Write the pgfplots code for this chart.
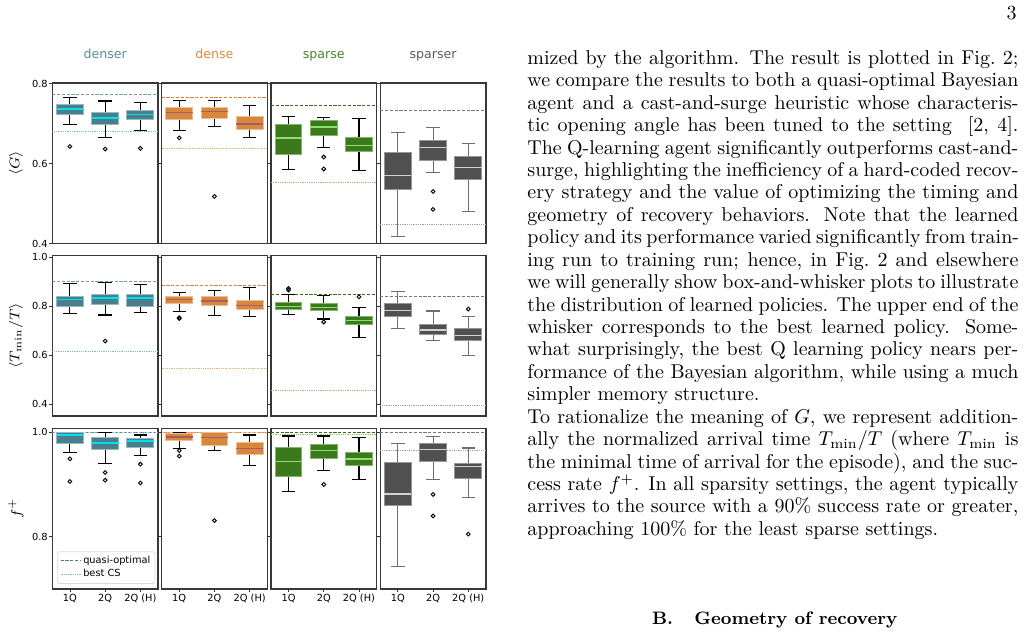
\documentclass[border=0pt]{standalone}
\usepackage{fontspec}
\usepackage{pgfplots}
\pgfplotsset{compat=1.18}
\usepgfplotslibrary{statistics}
\newfontfamily\dvs{DejaVu Sans}
\newcommand\tickfont{\dvs\fontsize{4.9}{5.6}\selectfont}
\newcommand\titlefont{\dvs\fontsize{6.3}{7}\selectfont}
\newcommand\bodyfont{\fontsize{10}{12}\selectfont}

\definecolor{cA}{RGB}{74,126,140}
\definecolor{cAe}{RGB}{150,185,195}
\definecolor{cAm}{RGB}{0,225,235}
\definecolor{cAl}{RGB}{110,155,170}
\definecolor{cAd}{RGB}{130,185,200}
\definecolor{cAt}{RGB}{85,140,155}
\definecolor{cB}{RGB}{218,135,62}
\definecolor{cBe}{RGB}{240,190,145}
\definecolor{cBm}{RGB}{165,95,100}
\definecolor{cBl}{RGB}{225,125,45}
\definecolor{cBd}{RGB}{240,175,120}
\definecolor{cBt}{RGB}{225,135,60}
\definecolor{cC}{RGB}{60,120,28}
\definecolor{cCe}{RGB}{130,180,110}
\definecolor{cCm}{RGB}{140,225,110}
\definecolor{cCl}{RGB}{55,105,30}
\definecolor{cCd}{RGB}{140,195,120}
\definecolor{cCt}{RGB}{70,135,40}
\definecolor{cD}{RGB}{80,80,80}
\definecolor{cDe}{RGB}{150,150,150}
\definecolor{cDm}{RGB}{210,210,210}
\definecolor{cDl}{RGB}{120,120,120}
\definecolor{cDd}{RGB}{160,160,160}
\definecolor{cDt}{RGB}{90,90,90}
\definecolor{cDw}{RGB}{110,110,110}

\pgfplotsset{
  panel/.style={scale only axis, width=52.85pt, height=80.3pt,
    xmin=-0.5, xmax=2.5, enlargelimits=false,
    axis line style={draw=black!78, line width=0.65pt},
    tick align=outside, tick pos=left, major tick length=1.5pt,
    every tick/.style={draw=black!80, line width=0.4pt},
    xtick=\empty,
    yticklabel style={font=\tickfont, inner sep=0.6pt},
    xticklabel style={font=\tickfont, inner sep=1pt},
    title style={font=\titlefont, at={(axis description cs:0.5,1)}, anchor=base, yshift=6pt},
    ylabel style={font=\fontsize{7.2}{8}\selectfont, at={(axis description cs:-0.345,0.5)}, anchor=center}},
  r1/.style={ymin=0.4, ymax=0.802, ytick={0.4,0.6,0.8}, yticklabels={0.4,0.6,0.8}},
  r2/.style={ymin=0.352, ymax=1.008, ytick={0.4,0.6,0.8,1.0}, yticklabels={0.4,0.6,0.8,1.0}},
  r3/.style={ymin=0.70, ymax=1.0077, ytick={0.8,1.0}, yticklabels={0.8,1.0},
    xtick={0,1,2}, xticklabels={1Q,2Q,2Q (H)}},
  nolab/.style={yticklabels={}},
  bxbase/.style={forget plot, mark=o, mark size=0.95pt,
    mark options={draw=black, line width=0.45pt, solid},
    boxplot/draw direction=y,
    boxplot/box extend=0.76, boxplot/whisker extend=0.38},
  bxA/.style={bxbase, boxplot/every box/.style={draw=cAe, fill=cA, line width=0.5pt},
    boxplot/every median/.style={draw=cAm, line width=0.7pt},
    boxplot/every whisker/.style={draw=black, line width=0.55pt}},
  bxB/.style={bxbase, boxplot/every box/.style={draw=cBe, fill=cB, line width=0.5pt},
    boxplot/every median/.style={draw=cBm, line width=0.7pt},
    boxplot/every whisker/.style={draw=black, line width=0.55pt}},
  bxC/.style={bxbase, boxplot/every box/.style={draw=cCe, fill=cC, line width=0.5pt},
    boxplot/every median/.style={draw=cCm, line width=0.7pt},
    boxplot/every whisker/.style={draw=black, line width=0.55pt}},
  bxD/.style={bxbase, boxplot/every box/.style={draw=cDe, fill=cD, line width=0.5pt},
    boxplot/every median/.style={draw=cDm, line width=0.7pt},
    boxplot/every whisker/.style={draw=cDw, line width=0.55pt}},
  dsA/.style={draw=cAl, line width=0.45pt, dash pattern=on 1.6pt off 0.8pt},
  dtA/.style={draw=cAd, line width=0.5pt, dash pattern=on 0.4pt off 0.5pt},
  dsB/.style={draw=cBl, line width=0.45pt, dash pattern=on 1.6pt off 0.8pt},
  dtB/.style={draw=cBd, line width=0.5pt, dash pattern=on 0.4pt off 0.5pt},
  dsC/.style={draw=cCl, line width=0.45pt, dash pattern=on 1.6pt off 0.8pt},
  dtC/.style={draw=cCd, line width=0.5pt, dash pattern=on 0.4pt off 0.5pt},
  dsD/.style={draw=cDl, line width=0.45pt, dash pattern=on 1.6pt off 0.8pt},
  dtD/.style={draw=cDd, line width=0.5pt, dash pattern=on 0.4pt off 0.5pt},
}
% box: style, position, lower whisker, lower quartile, median, upper quartile, upper whisker, outliers
\newcommand\bx[8]{\addplot[#1, boxplot prepared={draw position=#2, lower whisker=#3,
  lower quartile=#4, median=#5, upper quartile=#6, upper whisker=#7}] coordinates {#8};}
\newcommand\rl[2]{\addplot[#1, forget plot] coordinates {(-0.5,#2) (2.5,#2)};}
\newcommand\tl[2]{\node[anchor=base west, inner sep=0pt] at (263.5pt,{(-32.15-11.215*(#1-1))*1pt}) {\bodyfont\makebox[245.5pt][s]{#2}};}
\newcommand\tll[2]{\node[anchor=base west, inner sep=0pt] at (263.5pt,{(-32.15-11.215*(#1-1))*1pt}) {\bodyfont #2};}

\begin{document}
\begin{tikzpicture}
\path[use as bounding box] (0pt,0pt) rectangle (512pt,-317.5pt);

% ================= Row 1: <G> =================
\begin{axis}[panel, r1, at={(26.15pt,-41.5pt)}, anchor=north west,
  title={denser}, title style={text=cAt}, ylabel={$\langle G\rangle$}]
\rl{dsA}{0.773}\rl{dtA}{0.680}
\bx{bxA}{0}{0.697}{0.723}{0.737}{0.7485}{0.765}{(0,0.643)}
\bx{bxA}{1}{0.666}{0.697}{0.7145}{0.7286}{0.757}{(1,0.6366)}
\bx{bxA}{2}{0.683}{0.7095}{0.723}{0.7336}{0.7527}{(2,0.6383)}
\end{axis}
\begin{axis}[panel, r1, nolab, at={(80.8pt,-41.5pt)}, anchor=north west,
  title={dense}, title style={text=cBt}]
\rl{dsB}{0.7667}\rl{dtB}{0.6373}
\bx{bxB}{0}{0.683}{0.7104}{0.7286}{0.740}{0.7585}{(0,0.6647)}
\bx{bxB}{1}{0.692}{0.713}{0.730}{0.7418}{0.759}{(1,0.518)}
\bx{bxB}{2}{0.666}{0.6856}{0.6995}{0.718}{0.745}{}
\end{axis}
\begin{axis}[panel, r1, nolab, at={(135.45pt,-41.5pt)}, anchor=north west,
  title={sparse}, title style={text=cCt}]
\rl{dsC}{0.745}\rl{dtC}{0.5527}
\bx{bxC}{0}{0.585}{0.6234}{0.6647}{0.698}{0.7187}{}
\bx{bxC}{1}{0.641}{0.6714}{0.692}{0.707}{0.7146}{(1,0.6167) (1,0.5868)}
\bx{bxC}{2}{0.5836}{0.6308}{0.6458}{0.6657}{0.712}{}
\end{axis}
\begin{axis}[panel, r1, nolab, at={(190.1pt,-41.5pt)}, anchor=north west,
  title={sparser}, title style={text=cDt}]
\rl{dsD}{0.7336}\rl{dtD}{0.4468}
\bx{bxD}{0}{0.4185}{0.5346}{0.570}{0.629}{0.679}{}
\bx{bxD}{1}{0.5786}{0.6085}{0.641}{0.657}{0.6896}{(1,0.5304) (1,0.4856)}
\bx{bxD}{2}{0.4806}{0.5612}{0.591}{0.619}{0.6507}{}
\end{axis}

% ================= Row 2: <Tmin/T> =================
\begin{axis}[panel, r2, at={(26.15pt,-127.7pt)}, anchor=north west,
  ylabel={$\langle T_{\min}/T\rangle$}]
\rl{dsA}{0.9014}\rl{dtA}{0.6152}
\bx{bxA}{0}{0.770}{0.7975}{0.8275}{0.841}{0.892}{}
\bx{bxA}{1}{0.7647}{0.808}{0.8345}{0.8468}{0.896}{(1,0.658)}
\bx{bxA}{2}{0.774}{0.800}{0.8345}{0.8468}{0.888}{}
\end{axis}
\begin{axis}[panel, r2, nolab, at={(80.8pt,-127.7pt)}, anchor=north west]
\rl{dsB}{0.886}\rl{dtB}{0.544}
\bx{bxB}{0}{0.777}{0.810}{0.8275}{0.8386}{0.855}{(0,0.750) (0,0.754)}
\bx{bxB}{1}{0.7618}{0.804}{0.822}{0.8386}{0.863}{}
\bx{bxB}{2}{0.7577}{0.785}{0.803}{0.8246}{0.8768}{}
\end{axis}
\begin{axis}[panel, r2, nolab, at={(135.45pt,-127.7pt)}, anchor=north west]
\rl{dsC}{0.8468}\rl{dtC}{0.4566}
\bx{bxC}{0}{0.766}{0.7864}{0.800}{0.814}{0.8468}{(0,0.8727) (0,0.866)}
\bx{bxC}{1}{0.748}{0.781}{0.796}{0.810}{0.844}{(1,0.736)}
\bx{bxC}{2}{0.6727}{0.725}{0.7425}{0.759}{0.7934}{(2,0.8386)}
\end{axis}
\begin{axis}[panel, r2, nolab, at={(190.1pt,-127.7pt)}, anchor=north west]
\rl{dsD}{0.8386}\rl{dtD}{0.395}
\bx{bxD}{0}{0.7097}{0.759}{0.7823}{0.8124}{0.859}{}
\bx{bxD}{1}{0.660}{0.6838}{0.703}{0.725}{0.781}{}
\bx{bxD}{2}{0.5975}{0.662}{0.681}{0.711}{0.759}{(2,0.789)}
\end{axis}

% ================= Row 3: f+ =================
\begin{axis}[panel, r3, at={(26.15pt,-214.15pt)}, anchor=north west,
  ylabel={$f^{+}$},
  legend style={at={(axis description cs:0.047,0.031)}, anchor=south west,
    font=\tickfont, draw=black!15, rounded corners=1pt, fill=white,
    inner xsep=1.2pt, inner ysep=0.8pt, row sep=-0.6pt,
    nodes={inner sep=1.1pt}},
  legend cell align=left,
  legend image code/.code={\draw[#1] (0pt,0pt) -- (10pt,0pt);}]
\addplot[dsA, draw=cA] coordinates {(-0.5,1.0) (2.5,1.0)};
\addlegendentry{quasi-optimal}
\addplot[dtA] coordinates {(-0.5,0.999) (2.5,0.999)};
\addlegendentry{best CS}
\bx{bxA}{0}{0.9608}{0.9794}{0.995}{1.0}{1.0}{(0,0.9492) (0,0.9057)}
\bx{bxA}{1}{0.941}{0.968}{0.9794}{0.991}{1.0}{(1,0.923) (1,0.9083)}
\bx{bxA}{2}{0.955}{0.9717}{0.9833}{0.989}{0.9948}{(2,0.939) (2,0.903)}
\end{axis}
\begin{axis}[panel, r3, nolab, at={(80.8pt,-214.15pt)}, anchor=north west]
\rl{dsB}{1.0}\rl{dtB}{0.999}
\bx{bxB}{0}{0.969}{0.9846}{0.991}{0.9974}{1.0}{(0,0.965) (0,0.9544)}
\bx{bxB}{1}{0.966}{0.974}{0.9897}{0.999}{1.0}{(1,0.831)}
\bx{bxB}{2}{0.937}{0.9577}{0.9685}{0.9807}{0.9948}{}
\end{axis}
\begin{axis}[panel, r3, nolab, at={(135.45pt,-214.15pt)}, anchor=north west]
\rl{dsC}{1.0}\rl{dtC}{0.996}
\bx{bxC}{0}{0.8865}{0.915}{0.944}{0.9704}{0.993}{}
\bx{bxC}{1}{0.927}{0.95}{0.9646}{0.977}{0.993}{(1,0.900)}
\bx{bxC}{2}{0.909}{0.9358}{0.949}{0.9615}{0.990}{}
\end{axis}
\begin{axis}[panel, r3, nolab, at={(190.1pt,-214.15pt)}, anchor=north west]
\rl{dsD}{1.0}\rl{dtD}{0.966}
\bx{bxD}{0}{0.743}{0.859}{0.882}{0.9416}{0.9794}{}
\bx{bxD}{1}{0.909}{0.9435}{0.967}{0.978}{0.992}{(1,0.881) (1,0.8397)}
\bx{bxD}{2}{0.875}{0.912}{0.934}{0.9404}{0.970}{(2,0.805)}
\end{axis}

% ================= Text column =================
\node[anchor=base east, inner sep=0pt] at (508.5pt,-10pt) {\bodyfont 3};
\tl{1}{mized by the algorithm. The result is plotted in Fig.~2;}
\tl{2}{we compare the results to both a quasi-optimal Bayesian}
\tl{3}{agent and a cast-and-surge heuristic whose characteris-}
\tl{4}{tic opening angle has been tuned to the setting\ \ [2, 4].}
\tl{5}{The Q-learning agent significantly outperforms cast-and-}
\tl{6}{surge, highlighting the inefficiency of a hard-coded recov-}
\tl{7}{ery strategy and the value of optimizing the timing and}
\tl{8}{geometry of recovery behaviors. Note that the learned}
\tl{9}{policy and its performance varied significantly from train-}
\tl{10}{ing run to training run; hence, in Fig.~2 and elsewhere}
\tl{11}{we will generally show box-and-whisker plots to illustrate}
\tl{12}{the distribution of learned policies. The upper end of the}
\tl{13}{whisker corresponds to the best learned policy. Some-}
\tl{14}{what surprisingly, the best Q learning policy nears per-}
\tl{15}{formance of the Bayesian algorithm, while using a much}
\tll{16}{simpler memory structure.}
\tl{17}{To rationalize the meaning of $G$, we represent addition-}
\tl{18}{ally the normalized arrival time $T_{\min}/T$ (where $T_{\min}$ is}
\tl{19}{the minimal time of arrival for the episode), and the suc-}
\tl{20}{cess rate $f^{+}$. In all sparsity settings, the agent typically}
\tl{21}{arrives to the source with a 90\% success rate or greater,}
\tll{22}{approaching 100\% for the least sparse settings.}
\node[anchor=base west, inner sep=0pt] at (325.85pt,-312.2pt) {\fontsize{9}{11}\selectfont\bfseries B.};
\node[anchor=base west, inner sep=0pt] at (347pt,-312.2pt) {\fontsize{9}{11}\selectfont\bfseries Geometry of recovery};
\end{tikzpicture}
\end{document}
